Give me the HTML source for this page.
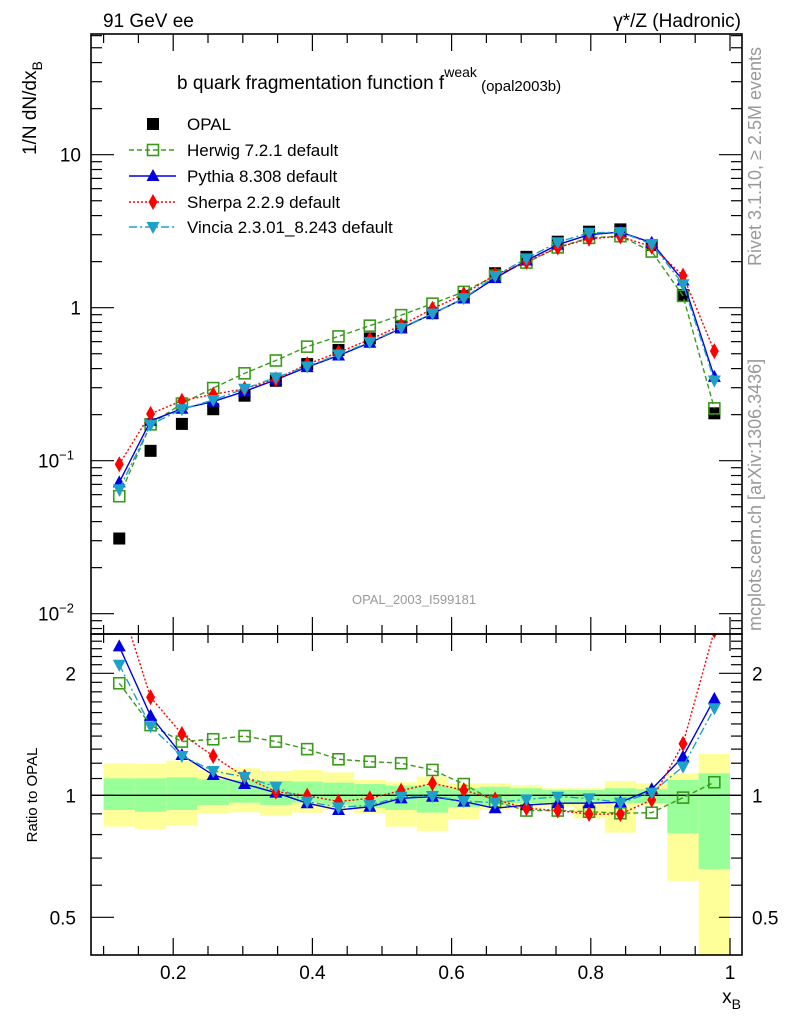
<!DOCTYPE html>
<html><head><meta charset="utf-8"><style>
html,body{margin:0;padding:0;background:#fff;width:786px;height:1024px;overflow:hidden}
svg text{font-family:"Liberation Sans",sans-serif}
</style></head><body>
<svg id="c" width="786" height="1024" viewBox="0 0 786 1024" xmlns="http://www.w3.org/2000/svg">
<defs>
<clipPath id="cm"><rect x="91" y="34" width="651" height="600"/></clipPath>
<clipPath id="cr"><rect x="91" y="634" width="651" height="321"/></clipPath>
</defs>
<g id="bands" clip-path="url(#cr)"></g>
<g id="ticks"></g>
<line x1="91" y1="795.3" x2="742" y2="795.3" stroke="#000" stroke-width="1.3"/>
<g id="mainMarks" clip-path="url(#cm)"></g>
<g id="ratioMarks" clip-path="url(#cr)"></g>
<rect x="91" y="34" width="651" height="600" fill="none" stroke="#000" stroke-width="1.6"/>
<rect x="91" y="634" width="651" height="321" fill="none" stroke="#000" stroke-width="1.6"/>
<text x="103" y="27" font-size="19">91 GeV ee</text>
<text x="741" y="27" font-size="19" text-anchor="end">γ*/Z (Hadronic)</text>
<text x="177" y="89" font-size="19">b quark fragmentation function f<tspan font-size="14" dy="-12">weak</tspan><tspan font-size="15" dy="14"> (opal2003b)</tspan></text>
<text transform="translate(36,155) rotate(-90)" font-size="19">1/N dN/dx<tspan font-size="14" dy="6">B</tspan></text>
<text transform="translate(37,795) rotate(-90)" font-size="15" text-anchor="middle">Ratio to OPAL</text>
<text x="741" y="1003" font-size="19" text-anchor="end">x<tspan font-size="14" dy="6">B</tspan></text>
<text transform="translate(761,266) rotate(-90)" font-size="18" fill="#999">Rivet 3.1.10, ≥ 2.5M events</text>
<text transform="translate(761,631) rotate(-90)" font-size="18" fill="#999">mcplots.cern.ch [arXiv:1306.3436]</text>
<text x="414" y="604" font-size="13" fill="#999" text-anchor="middle">OPAL_2003_I599181</text>
<g id="legend"></g>
</svg>
<script>
const opal=[0.031,0.116,0.174,0.217,0.266,0.333,0.428,0.529,0.63,0.745,0.92,1.19,1.68,2.15,2.70,3.14,3.25,2.57,1.21,0.204];
const herwigRatio=[1.89,1.49,1.357,1.375,1.40,1.357,1.30,1.227,1.211,1.20,1.155,1.066,0.965,0.917,0.917,0.911,0.903,0.906,0.987,1.077];
const pythiaRatio=[2.33,1.57,1.257,1.122,1.066,1.015,0.956,0.92,0.937,0.983,0.992,0.965,0.929,0.946,0.956,0.956,0.961,1.035,1.245,1.73];
const sherpaRatio=[3.06,1.745,1.417,1.25,1.11,1.021,0.998,0.965,0.983,1.027,1.07,1.03,0.977,0.929,0.917,0.899,0.899,0.974,1.34,2.55];
const vinciaRatio=[2.1,1.48,1.25,1.148,1.11,1.05,0.965,0.934,0.946,0.992,0.996,0.968,0.959,0.977,0.992,0.983,0.959,1.015,1.177,1.64];
const bandYellowUp=[1.199,1.195,1.218,1.155,1.166,1.148,1.155,1.139,1.091,1.077,1.112,1.070,1.070,1.060,1.041,1.041,1.085,1.070,1.133,1.265];
const bandGreenUp=[1.101,1.101,1.107,1.095,1.091,1.085,1.081,1.075,1.066,1.056,1.056,1.041,1.050,1.041,1.031,1.031,1.041,1.035,1.091,1.133];
const bandGreenDn=[0.920,0.911,0.920,0.947,0.959,0.947,0.959,0.947,0.929,0.920,0.906,0.934,0.947,0.956,0.959,0.959,0.956,0.956,0.806,0.657];
const bandYellowDn=[0.837,0.826,0.842,0.903,0.908,0.891,0.906,0.920,0.903,0.837,0.817,0.874,0.920,0.929,0.938,0.877,0.809,0.947,0.615,0.30];
const binLo=0.1, binW=0.045;
const xTicks=[0.2,0.4,0.6,0.8,1];
const ratioTicks=[2,1,0.5];

const NS="http://www.w3.org/2000/svg";
const BOT=955;
const X=v=>34+696*v;
const YM=v=>307.7-153*Math.log10(v);
const YR=r=>795.3-122*Math.log2(r);
function mk(tag,attrs,parent){const e=document.createElementNS(NS,tag);for(const k in attrs)e.setAttribute(k,attrs[k]);parent.appendChild(e);return e;}
const bands=document.getElementById('bands'),ticks=document.getElementById('ticks');
const mm=document.getElementById('mainMarks'),rm=document.getElementById('ratioMarks'),lg=document.getElementById('legend');

for(let i=0;i<opal.length;i++){
  const x0=X(binLo+i*binW),x1=X(binLo+(i+1)*binW);
  let r=mk('rect',{x:x0,y:YR(bandYellowUp[i]),width:x1-x0,height:YR(bandYellowDn[i])-YR(bandYellowUp[i]),fill:'#ffff99'},bands);
  
  
  r=mk('rect',{x:x0,y:YR(bandGreenUp[i]),width:x1-x0,height:YR(bandGreenDn[i])-YR(bandGreenUp[i]),fill:'#99ff99'},bands);
  
  
}

function tl(x1,y1,x2,y2){mk('line',{x1,y1,x2,y2,stroke:'#000','stroke-width':1.2},ticks);}
for(let v=0.1;v<=1.001;v+=0.05){
  const x=X(v);const maj=Math.abs(v*5-Math.round(v*5))<1e-6;const L=maj?17:9;
  tl(x,34,x,34+L);tl(x,634,x,634-L);tl(x,634,x,634+L);tl(x,BOT,x,BOT-L);
}
xTicks.forEach(v=>{const t=mk('text',{x:X(v),y:979,'font-size':19,'text-anchor':'middle'},ticks);t.textContent=String(v);});
for(let e=-3;e<=1;e++){for(let m=1;m<10;m++){const v=m*Math.pow(10,e);const y=YM(v);if(y<34||y>634)continue;const L=m==1?23:11;tl(91,y,91+L,y);tl(742,y,742-L,y);}}
[[10,'10'],[1,'1'],[0.1,'10'],[0.01,'10']].forEach((d,i)=>{const t=mk('text',{x:i<2?81:74,y:YM(d[0])+7,'font-size':19,'text-anchor':'end'},ticks);t.textContent=d[1];if(i>=2){const s=mk('tspan',{'font-size':13,dy:-8},t);s.textContent=i==2?'−1':'−2';}});
for(let r=0.4;r<=2.5;r+=0.1){const y=YR(r);if(y<634||y>BOT)continue;const maj=Math.abs(r-1)<1e-6||Math.abs(r-2)<1e-6||Math.abs(r-0.5)<1e-6;const L=maj?23:11;tl(91,y,91+L,y);tl(742,y,742-L,y);}
ratioTicks.forEach(r=>{let t=mk('text',{x:76,y:YR(r)+7,'font-size':19,'text-anchor':'end'},ticks);t.textContent=String(r);
 t=mk('text',{x:752,y:YR(r)+7,'font-size':19},ticks);t.textContent=String(r);});

function marker(type,x,y,col,g){
  let e;
  if(type=='sq')e=mk('rect',{x:x-6,y:y-6,width:12,height:12,fill:col},g);
  else if(type=='osq')e=mk('rect',{x:x-5.5,y:y-5.5,width:11,height:11,fill:'none',stroke:col,'stroke-width':1.6},g);
  else if(type=='up')e=mk('polygon',{points:`${x},${y-7} ${x+6.5},${y+5} ${x-6.5},${y+5}`,fill:col},g);
  else if(type=='dn')e=mk('polygon',{points:`${x},${y+7} ${x+6.5},${y-5} ${x-6.5},${y-5}`,fill:col},g);
  else e=mk('polygon',{points:`${x},${y-8} ${x+4.5},${y} ${x},${y+8} ${x-4.5},${y}`,fill:col},g);
  return e;
}
const series=[
 {name:'herwig',r:herwigRatio,col:'#3a9a1a',dash:'5,3',type:'osq',lab:'Herwig 7.2.1 default'},
 {name:'pythia',r:pythiaRatio,col:'#0000e0',dash:'',type:'up',lab:'Pythia 8.308 default'},
 {name:'sherpa',r:sherpaRatio,col:'#ff0000',dash:'2,2',type:'dia',lab:'Sherpa 2.2.9 default'},
 {name:'vincia',r:vinciaRatio,col:'#1ea0c8',dash:'8,3,2,3',type:'dn',lab:'Vincia 2.3.01_8.243 default'}];
const cx=opal.map((_,i)=>X(binLo+(i+0.5)*binW));
opal.forEach((v,i)=>{const e=marker('sq',cx[i],YM(v),'#000',mm);});
series.forEach(s=>{
  const vals=s.r.map((r,i)=>r*opal[i]);
  let p=mk('polyline',{points:vals.map((v,i)=>cx[i]+','+YM(v)).join(' '),fill:'none',stroke:s.col,'stroke-width':1.4,'stroke-dasharray':s.dash},mm);
  
  
  vals.forEach((v,i)=>{const e=marker(s.type,cx[i],YM(v),s.col,mm);});
  p=mk('polyline',{points:s.r.map((r,i)=>cx[i]+','+YR(r)).join(' '),fill:'none',stroke:s.col,'stroke-width':1.4,'stroke-dasharray':s.dash},rm);
  
  
  s.r.forEach((r,i)=>{const e=marker(s.type,cx[i],YR(r),s.col,rm);});
});
const ly=[124,150,176,202,227];
let e=marker('sq',153,ly[0],'#000',lg);
let t=mk('text',{x:187,y:ly[0]+6,'font-size':17},lg);t.textContent='OPAL';
series.forEach((s,k)=>{const y=ly[k+1];
  const l=mk('line',{x1:129,y1:y,x2:176,y2:y,stroke:s.col,'stroke-width':1.4,'stroke-dasharray':s.dash},lg);
  
  const m=marker(s.type,153,y,s.col,lg);
  const tx=mk('text',{x:187,y:y+6,'font-size':17},lg);tx.textContent=s.lab;
  
  
});
</script>
</body></html>
